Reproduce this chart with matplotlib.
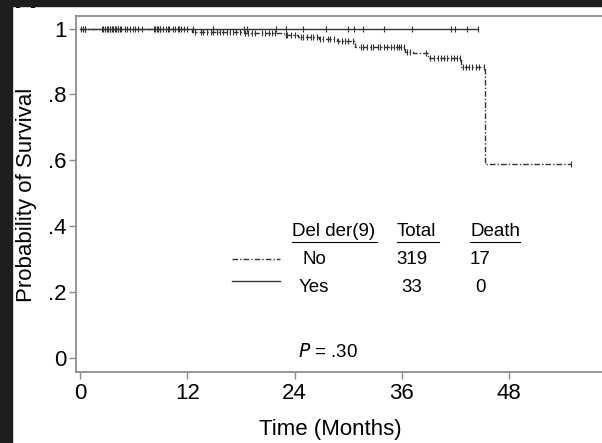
import numpy as np
import matplotlib
matplotlib.use('Agg')
import matplotlib.pyplot as plt
from matplotlib.lines import Line2D
from matplotlib.patches import Rectangle

plt.rcParams['font.family'] = ['Liberation Sans', 'DejaVu Sans']

# Del der(9) = No : step times (months) and survival after each step
no_times = [0, 12.5, 18.3, 22.8, 24.4, 26.7, 28.8, 30.8, 36.4, 37.2, 38.9, 42.6, 45.3, 54.9]
no_surv = [1.0, 0.99, 0.986, 0.98, 0.974, 0.968, 0.963, 0.945, 0.93, 0.925, 0.911, 0.884, 0.589, 0.589]

# censored observations, group No
no_censor = [0.3, 0.6, 2.5, 2.8, 3.1, 3.4, 3.7, 4.0, 4.3, 4.6, 5.0, 5.3, 5.6, 5.9, 6.2, 6.5,
             8.4, 8.7, 9.0, 9.3, 9.6, 9.9, 10.6, 11.0, 11.3, 11.6, 12.0,
             12.9, 13.5, 13.8, 14.2, 14.6, 14.9, 15.3, 15.7, 16.0, 16.4, 16.8, 17.1, 17.5, 17.9,
             18.5, 18.8, 19.2, 19.6, 20.4, 20.7, 21.1, 21.5, 21.8,
             23.0, 23.2, 23.6, 24.0,
             24.7, 25.0, 25.4, 25.8, 26.1, 26.5,
             26.9, 27.2, 27.7, 28.0, 28.4,
             28.9, 29.3, 29.7, 30.0, 30.5,
             31.4, 31.7, 32.1, 32.5, 32.8, 33.3, 33.6, 34.0, 34.4, 34.8, 35.1, 35.5, 35.7, 35.9, 36.2,
             36.6, 36.9, 38.7,
             39.2, 39.6, 40.0, 40.4, 40.7, 41.1, 41.5, 41.8, 42.2, 42.5,
             42.8, 43.2, 43.5, 43.9, 44.3, 44.6, 45.2,
             54.9]

# Del der(9) = Yes : no deaths, all censored
yes_times = [0, 44.5]
yes_surv = [1.0, 1.0]
yes_censor = [0.1, 0.6, 2.6, 3.0, 3.3, 3.6, 3.9, 4.2, 4.5, 6.9, 8.3, 8.6, 9.0, 9.8, 10.4, 11.1,
              12.6, 14.9, 18.4, 18.7, 21.9, 23.1, 25.0, 27.5, 30.0, 30.6, 31.7, 34.0, 37.1,
              41.5, 42.0, 43.3, 44.5]

legend_groups = ['No', 'Yes']
legend_total = ['319', '33']
legend_death = ['17', '0']


def surv_at(times, surv, t):
    idx = np.searchsorted(times, t, side='right') - 1
    return np.array(surv)[idx]


W, H = 602, 443
fig = plt.figure(figsize=(W / 100, H / 100), dpi=100)
fig.patch.set_facecolor('white')

ax = fig.add_axes([76 / W, (H - 372) / H, (W - 76) / W, (372 - 16) / H])

line_col = '#333333'
frame_col = '#8c8c8c'

ax.plot(yes_times, yes_surv, drawstyle='steps-post', color=line_col, lw=1.0)
ax.plot(yes_censor, surv_at(yes_times, yes_surv, yes_censor), ls='none', marker='|',
        ms=4, mew=0.8, color=line_col)

ax.plot(no_times, no_surv, drawstyle='steps-post', color=line_col, lw=1.0,
        ls=(0, (4, 1.5, 1, 1.5)))
ax.plot(no_censor, surv_at(no_times, no_surv, no_censor), ls='none', marker='|',
        ms=4, mew=0.8, color=line_col)

ax.set_xlim(-0.45, 58.4)
ax.set_ylim(-0.042, 1.038)
ax.set_xticks([0, 12, 24, 36, 48])
ax.set_yticks([0, 0.2, 0.4, 0.6, 0.8, 1.0])
ax.set_yticklabels(['0', '.2', '.4', '.6', '.8', '1'])
ax.tick_params(direction='out', length=5, width=1, color=frame_col, labelsize=16,
               labelcolor='black')
ax.tick_params(axis='y', pad=1.5)
ax.tick_params(axis='x', pad=3)
for s in ['left', 'top', 'bottom']:
    ax.spines[s].set_color(frame_col)
    ax.spines[s].set_linewidth(1.3)
ax.spines['right'].set_visible(False)

fig.text(27 / W, 1 - 195 / H, 'Probability of Survival', rotation=90, ha='center',
         va='center', fontsize=16)
fig.text(330 / W, 1 - 430 / H, 'Time (Months)', ha='center', va='center', fontsize=16)

# legend table
fs = 13.5
def fx(x):
    return x / W
def fy(y):
    return 1 - y / H

fig.text(fx(292), fy(232), 'Del der(9)', ha='left', va='center', fontsize=fs)
fig.text(fx(397), fy(232), 'Total', ha='left', va='center', fontsize=fs)
fig.text(fx(470), fy(232), 'Death', ha='left', va='center', fontsize=fs)
for x0, x1 in [(292, 377), (397, 439), (470, 520)]:
    fig.add_artist(Line2D([fx(x0), fx(x1)], [fy(242), fy(242)], color='black', lw=0.8))

rows_y = [260, 287]
styles = [(0, (4, 1.5, 1, 1.5)), '-']
name_x = [303, 299]
for i, g in enumerate(legend_groups):
    y = rows_y[i]
    fig.add_artist(Line2D([fx(232), fx(280)], [fy(y - 1 if i == 0 else y - 6)] * 2,
                          color=line_col, lw=1.0, ls=styles[i]))
    fig.text(fx(name_x[i]), fy(y), g, ha='left', va='center', fontsize=fs)
    fig.text(fx(412), fy(y), legend_total[i], ha='center', va='center', fontsize=fs)
    fig.text(fx(480), fy(y), legend_death[i], ha='center', va='center', fontsize=fs)

fig.text(fx(328), fy(352), r'$\it{P}$ = .30', ha='center', va='center', fontsize=fs)

# dark page border and cut-off panel letter
fig.text(fx(25), fy(8), 'A', ha='center', va='baseline', fontsize=21, fontweight='bold')
fig.add_artist(Rectangle((0, 0), 12 / W, 1, transform=fig.transFigure,
                         color='#1e1e1e', zorder=10))
fig.add_artist(Rectangle((0, 1 - 6 / H), 1, 6 / H, transform=fig.transFigure,
                         color='#1e1e1e', zorder=10))

fig.savefig('out.png', dpi=100)
